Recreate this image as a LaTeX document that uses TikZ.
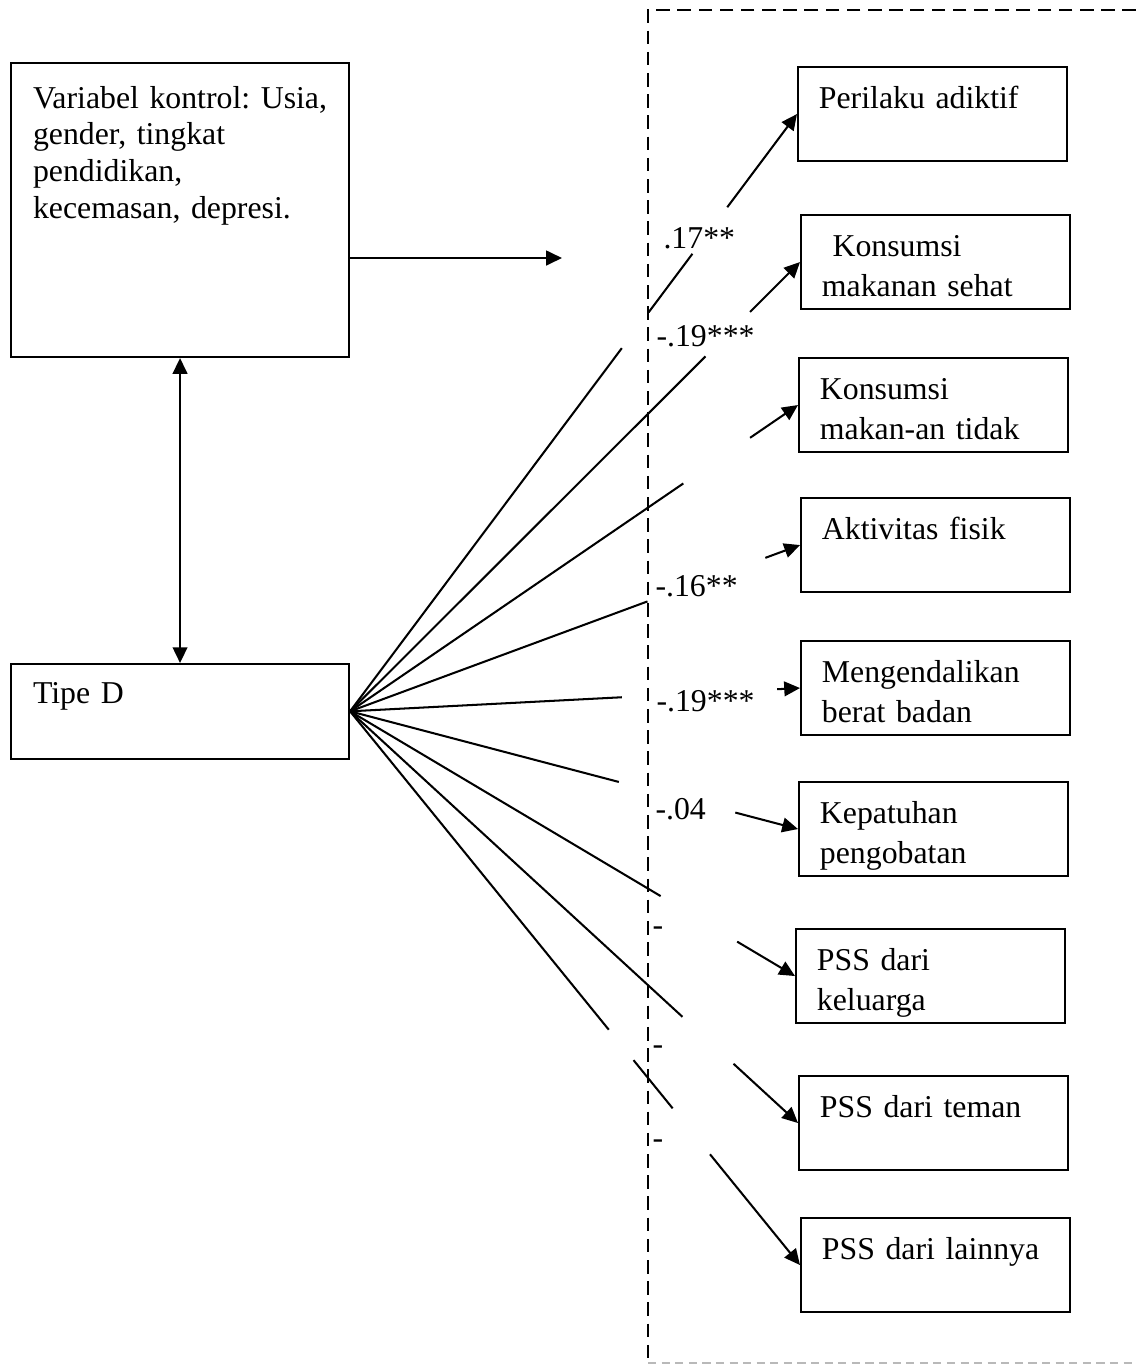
\documentclass[tikz,border=0pt]{standalone}
\usepackage{fontspec}
\setmainfont{Liberation Serif}
\usetikzlibrary{calc,arrows.meta}

\begin{document}
\begin{tikzpicture}[x=0.368pt, y=-0.368pt,
    every node/.style={font=\fontsize{11.7pt}{13.5pt}\selectfont\frenchspacing},
    varbox/.style={rectangle, draw=black, line width=0.75pt, anchor=north west, align=left, text width=108.2pt, inner xsep=8.1pt, inner ysep=0pt},
    outbox/.style={rectangle, draw=black, line width=0.75pt, anchor=north west, text width=83.6pt, align=left, inner xsep=7.7pt, inner ysep=0pt, text height=15.1pt, text depth=19.5pt, font=\fontsize{11.7pt}{14.7pt}\selectfont\frenchspacing},
    coef/.style={anchor=base west, inner sep=0pt},
    link/.style={line width=0.75pt},
    arrow/.style={line width=0.75pt, -{Triangle[length=5.8pt, width=5.4pt]}},
    dblarrow/.style={line width=0.75pt, {Triangle[length=5.8pt, width=5.4pt]}-{Triangle[length=5.8pt, width=5.4pt]}},
    frame/.style={line width=0.75pt, dash pattern=on 5pt off 2.8pt}
  ]
  \useasboundingbox (0,0) rectangle (1136,1365);

  % frame round the outcomes
  \draw[frame] (1136,10) -- (648,10) -- (648,1362);
  \draw[gray!55, line width=0.5pt, dash pattern=on 3pt off 2pt] (648,1363) -- (1136,1363);

  \node (ctrl) [varbox, text height=16.6pt, text depth=91.6pt] at (10,62) {\mbox{Variabel kontrol: Usia,}\\ gender, tingkat\\ pendidikan,\\ kecemasan, depresi.};
  \node (tipe) [varbox, text height=14.4pt, text depth=20.4pt] at (10,663) {Tipe D};

  \node (adiktif)  [outbox] at (797,66)   {Perilaku adiktif};
  \node (sehat)    [outbox] at (800,214)  {\ Konsumsi\\ makanan sehat};
  \node (tdksehat) [outbox] at (798,357)  {Konsumsi\\ makan-an tidak};
  \node (fisik)    [outbox] at (800,497)  {Aktivitas fisik};
  \node (berat)    [outbox] at (800,640)  {Mengendalikan\\ berat badan};
  \node (patuh)    [outbox] at (798,781)  {Kepatuhan\\ pengobatan};
  \node (keluarga) [outbox] at (795,928)  {PSS dari\\ keluarga};
  \node (teman)    [outbox] at (798,1075) {PSS dari teman};
  \node (lainnya)  [outbox] at (800,1217) {PSS dari lainnya};

  \coordinate (ctrlout) at (562,258);
  \draw[arrow] (ctrl.east |- ctrlout) -- (ctrlout);
  \draw[dblarrow] (ctrl.south) -- (tipe.north);

  % broken paths from Tipe D
  \draw[link] (tipe.east) -- ($(tipe.east)!0.608!(adiktif.west)$);
  \draw[link] ($(tipe.east)!0.668!(adiktif.west)$) -- ($(tipe.east)!0.766!(adiktif.west)$);
  \draw[arrow] ($(tipe.east)!0.844!(adiktif.west)$) -- (adiktif.west);

  \draw[link] (tipe.east) -- ($(tipe.east)!0.79!(sehat.west)$);
  \draw[arrow] ($(tipe.east)!0.889!(sehat.west)$) -- (sehat.west);

  \draw[link] (tipe.east) -- ($(tipe.east)!0.744!(tdksehat.west)$);
  \draw[arrow] ($(tipe.east)!0.893!(tdksehat.west)$) -- (tdksehat.west);

  \draw[link] (tipe.east) -- ($(tipe.east)!0.661!(fisik.west)$);
  \draw[arrow] ($(tipe.east)!0.923!(fisik.west)$) -- (fisik.west);

  \draw[link] (tipe.east) -- ($(tipe.east)!0.604!(berat.west)$);
  \draw[arrow] ($(tipe.east)!0.949!(berat.west)$) -- (berat.west);

  \draw[link] (tipe.east) -- ($(tipe.east)!0.6!(patuh.west)$);
  \draw[arrow] ($(tipe.east)!0.86!(patuh.west)$) -- (patuh.west);

  \draw[link] (tipe.east) -- ($(tipe.east)!0.698!(keluarga.west)$);
  \draw[arrow] ($(tipe.east)!0.87!(keluarga.west)$) -- (keluarga.west);

  \draw[link] (tipe.east) -- ($(tipe.east)!0.742!(teman.west)$);
  \draw[arrow] ($(tipe.east)!0.856!(teman.west)$) -- (teman.west);

  \draw[link] (tipe.east) -- ($(tipe.east)!0.575!(lainnya.west)$);
  \draw[link] ($(tipe.east)!0.63!(lainnya.west)$) -- ($(tipe.east)!0.717!(lainnya.west)$);
  \draw[arrow] ($(tipe.east)!0.8!(lainnya.west)$) -- (lainnya.west);

  % coefficients
  \node (c1) [coef] at (663,248) {.17**};
  \node (c2) [coef] at (656,346) {-.19***};
  \node (c3) [coef] at (655,596) {-.16**};
  \node (c4) [coef] at (656,711) {-.19***};
  \node (c5) [coef] at (655,819) {-.04};
  \node (c6) [coef] at (652,935) {-};
  \node (c7) [coef] at (652,1054) {-};
  \node (c8) [coef] at (652,1148) {-};
\end{tikzpicture}
\end{document}
